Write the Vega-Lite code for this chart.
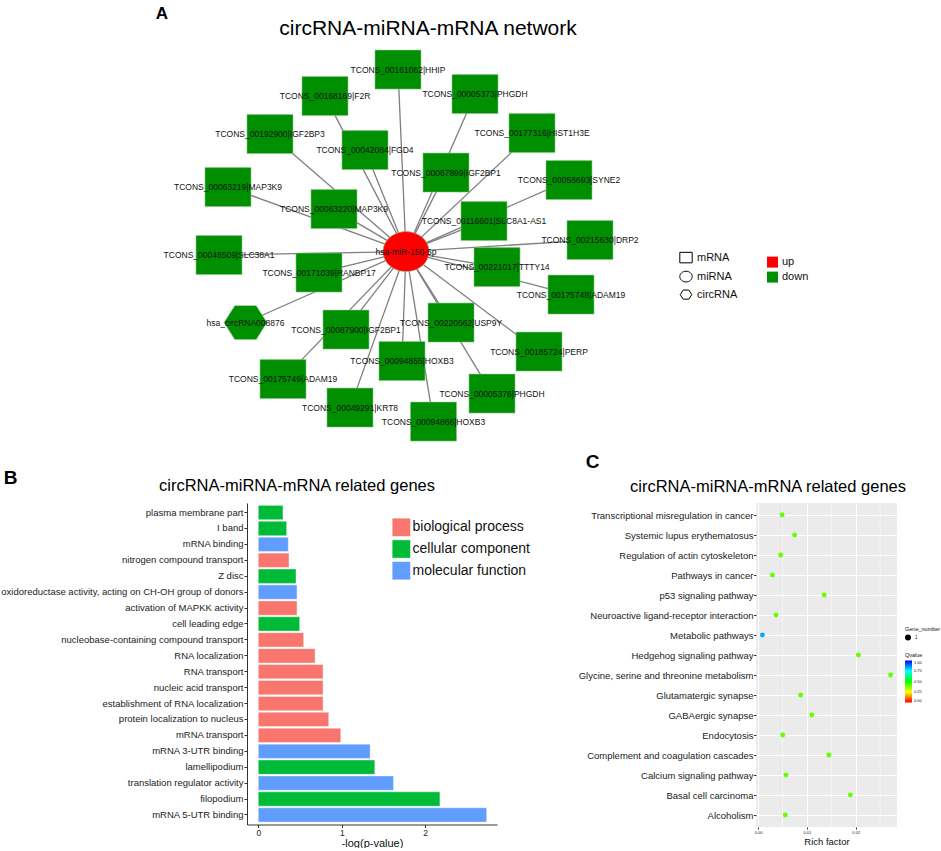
{
  "$schema": "https://vega.github.io/schema/vega-lite/v6.json",
  "padding": {"left": 0, "top": 4, "right": 0, "bottom": 0},
  "background": "white",
  "config": {
    "font": "Liberation Sans",
    "view": {"stroke": null},
    "title": {"fontWeight": "normal", "color": "black"},
    "axis": {"labelColor": "#222222", "titleColor": "#111111", "titleFontWeight": "normal", "domainColor": "#333333", "tickColor": "#333333"},
    "legend": {"labelColor": "#111111", "titleColor": "#111111", "titleFontWeight": "normal"}
  },
  "title": {"text": "A", "anchor": "start", "frame": "bounds", "dx": 155, "fontSize": 17, "fontWeight": "bold", "offset": -4.6},
  "spacing": 2,
  "resolve": {"scale": {"color": "independent", "shape": "independent", "size": "independent"}, "legend": {"color": "independent", "shape": "independent"}},
  "vconcat": [
    {
      "width": 690,
      "height": 405,
      "title": {"text": "circRNA-miRNA-mRNA network", "fontSize": 21, "anchor": "middle", "frame": "group", "dx": -164, "offset": 6},
      "data": {
        "values": [
          {"id": "hsa-miR-150-5p", "type": "miRNA", "reg": "up", "x": 406, "y": 250},
          {"id": "TCONS_00161062|HHIP", "type": "mRNA", "reg": "down", "x": 398, "y": 68},
          {"id": "TCONS_00168169|F2R", "type": "mRNA", "reg": "down", "x": 325, "y": 94.5},
          {"id": "TCONS_00005373|PHGDH", "type": "mRNA", "reg": "down", "x": 475, "y": 92.5},
          {"id": "TCONS_00192900|IGF2BP3", "type": "mRNA", "reg": "down", "x": 270, "y": 132.5},
          {"id": "TCONS_00042084|FGD4", "type": "mRNA", "reg": "down", "x": 365, "y": 148.5},
          {"id": "TCONS_00177316|HIST1H3E", "type": "mRNA", "reg": "down", "x": 532, "y": 131.5},
          {"id": "TCONS_00087899|IGF2BP1", "type": "mRNA", "reg": "down", "x": 446, "y": 171},
          {"id": "TCONS_00063219|MAP3K9", "type": "mRNA", "reg": "down", "x": 228, "y": 185.5},
          {"id": "TCONS_00058693|SYNE2", "type": "mRNA", "reg": "down", "x": 569, "y": 178.5},
          {"id": "TCONS_00063220|MAP3K9", "type": "mRNA", "reg": "down", "x": 334, "y": 207.5},
          {"id": "TCONS_00116601|SLC8A1-AS1", "type": "mRNA", "reg": "down", "x": 484, "y": 219.5},
          {"id": "TCONS_00215630|DRP2", "type": "mRNA", "reg": "down", "x": 590, "y": 238.5},
          {"id": "TCONS_00048509|SLC38A1", "type": "mRNA", "reg": "down", "x": 219, "y": 253.5},
          {"id": "TCONS_00171039|RANBP17", "type": "mRNA", "reg": "down", "x": 319, "y": 271},
          {"id": "TCONS_00221017|TTTY14", "type": "mRNA", "reg": "down", "x": 497, "y": 265.5},
          {"id": "TCONS_00175748|ADAM19", "type": "mRNA", "reg": "down", "x": 571, "y": 293},
          {"id": "hsa_circRNA008876", "type": "circRNA", "reg": "down", "x": 245.5, "y": 321},
          {"id": "TCONS_00087900|IGF2BP1", "type": "mRNA", "reg": "down", "x": 346, "y": 328},
          {"id": "TCONS_00220562|USP9Y", "type": "mRNA", "reg": "down", "x": 451, "y": 321},
          {"id": "TCONS_00185724|PERP", "type": "mRNA", "reg": "down", "x": 539, "y": 350},
          {"id": "TCONS_00094855|HOXB3", "type": "mRNA", "reg": "down", "x": 402, "y": 359.5},
          {"id": "TCONS_00175749|ADAM19", "type": "mRNA", "reg": "down", "x": 283, "y": 377.5},
          {"id": "TCONS_00005376|PHGDH", "type": "mRNA", "reg": "down", "x": 492, "y": 392},
          {"id": "TCONS_00049291|KRT8", "type": "mRNA", "reg": "down", "x": 350, "y": 406},
          {"id": "TCONS_00094866|HOXB3", "type": "mRNA", "reg": "down", "x": 433.5, "y": 420}
        ]
      },
      "encoding": {
        "x": {"field": "x", "type": "quantitative", "scale": {"domain": [247, 937], "nice": false, "zero": false}, "axis": null},
        "y": {"field": "y", "type": "quantitative", "scale": {"domain": [43.4, 448.4], "nice": false, "zero": false, "reverse": true}, "axis": null}
      },
      "layer": [
        {
          "transform": [{"filter": "datum.type != 'miRNA'"}],
          "mark": {"type": "rule", "color": "#7f7f7f", "strokeWidth": 1.3},
          "encoding": {"x2": {"datum": 406}, "y2": {"datum": 250}}
        },
        {
          "mark": {"type": "point", "filled": true, "opacity": 1, "size": 1521, "stroke": "#8cc48c", "strokeWidth": 0.6},
          "encoding": {
            "shape": {
              "field": "type", "type": "nominal",
              "scale": {"domain": ["mRNA", "miRNA", "circRNA"], "range": ["M-1.18,-1L1.18,-1L1.18,1L-1.18,1Z", "M-1.18,0A1.18,1.026,0,1,1,1.18,0A1.18,1.026,0,1,1,-1.18,0Z", "M-1.1,0L-0.55,-0.87L0.55,-0.87L1.1,0L0.55,0.87L-0.55,0.87Z"]},
              "legend": {"title": null, "orient": "none", "legendX": 433, "legendY": 206.6, "labelFontSize": 11, "symbolSize": 110, "rowPadding": 3, "labelOffset": 5,
                "symbolFillColor": "white", "symbolStrokeColor": "black", "symbolStrokeWidth": 1,
                "encode": {"symbols": {"enter": {"fill": {"value": "white"}, "stroke": {"value": "black"}}, "update": {"fill": {"value": "white"}, "stroke": {"value": "black"}, "strokeWidth": {"value": 1}, "opacity": {"value": 1}}}}}
            },
            "color": {
              "field": "reg", "type": "nominal",
              "scale": {"domain": ["up", "down"], "range": ["#ff0000", "#008f00"]},
              "legend": {"title": null, "orient": "none", "legendX": 520, "legendY": 211.6, "labelFontSize": 11, "symbolType": "square", "symbolSize": 121, "symbolStrokeWidth": 0, "rowPadding": 3, "labelOffset": 4}
            }
          }
        },
        {
          "mark": {"type": "text", "fontSize": 8.5, "color": "#111111", "align": "center", "baseline": "middle"},
          "encoding": {"text": {"field": "id", "type": "nominal"}}
        }
      ]
    },
    {
      "spacing": 47,
      "resolve": {"scale": {"color": "independent", "shape": "independent", "size": "independent"}, "legend": {"color": "independent", "shape": "independent"}},
      "hconcat": [
        {
          "title": {"text": ["", "B"], "lineHeight": 17, "anchor": "start", "frame": "bounds", "dx": 3, "fontSize": 19, "fontWeight": "bold", "offset": -9.8},
          "vconcat": [
            {
              "width": 250,
              "height": 321.5,
              "title": {"text": "circRNA-miRNA-mRNA related genes", "fontSize": 16.5, "anchor": "middle", "frame": "group", "dx": -75, "offset": 8.2},
              "data": {
                "values": [
                  {"term": "plasma membrane part", "category": "cellular component", "value": 0.296},
                  {"term": "I band", "category": "cellular component", "value": 0.34},
                  {"term": "mRNA binding", "category": "molecular function", "value": 0.36},
                  {"term": "nitrogen compound transport", "category": "biological process", "value": 0.368},
                  {"term": "Z disc", "category": "cellular component", "value": 0.452},
                  {"term": "oxidoreductase activity, acting on CH-OH group of donors", "category": "molecular function", "value": 0.464},
                  {"term": "activation of MAPKK activity", "category": "biological process", "value": 0.464},
                  {"term": "cell leading edge", "category": "cellular component", "value": 0.496},
                  {"term": "nucleobase-containing compound transport", "category": "biological process", "value": 0.544},
                  {"term": "RNA localization", "category": "biological process", "value": 0.68},
                  {"term": "RNA transport", "category": "biological process", "value": 0.776},
                  {"term": "nucleic acid transport", "category": "biological process", "value": 0.776},
                  {"term": "establishment of RNA localization", "category": "biological process", "value": 0.776},
                  {"term": "protein localization to nucleus", "category": "biological process", "value": 0.844},
                  {"term": "mRNA transport", "category": "biological process", "value": 0.988},
                  {"term": "mRNA 3-UTR binding", "category": "molecular function", "value": 1.34},
                  {"term": "lamellipodium", "category": "cellular component", "value": 1.396},
                  {"term": "translation regulator activity", "category": "molecular function", "value": 1.62},
                  {"term": "filopodium", "category": "cellular component", "value": 2.176},
                  {"term": "mRNA 5-UTR binding", "category": "molecular function", "value": 2.736}
                ]
              },
              "mark": {"type": "bar", "stroke": "white", "strokeWidth": 0.4},
              "encoding": {
                "y": {"field": "term", "type": "nominal", "sort": null, "scale": {"paddingInner": 0.1, "paddingOuter": 0.15},
                  "axis": {"title": null, "labelFontSize": 9.5, "labelLimit": 0, "tickSize": 3, "labelPadding": 1, "labelColor": "#222222"}},
                "x": {"field": "value", "type": "quantitative", "scale": {"domain": [-0.135, 2.86], "nice": false},
                  "axis": {"values": [0, 1, 2], "title": "-log(p-value)", "titleFontSize": 11, "titlePadding": 0, "labelFontSize": 8.5, "tickSize": 3, "labelPadding": 1, "grid": false}},
                "color": {"field": "category", "type": "nominal",
                  "scale": {"domain": ["biological process", "cellular component", "molecular function"], "range": ["#F8766D", "#00BA38", "#619CFF"]},
                  "legend": {"title": null, "orient": "none", "legendX": 144.8, "legendY": 14.8, "symbolType": "square", "symbolSize": 335, "symbolStrokeColor": "white", "symbolStrokeWidth": 0.5, "labelFontSize": 14, "labelOffset": 1.7, "rowPadding": 0.7}}
              }
            }
          ]
        },
        {
          "title": {"text": "C", "anchor": "start", "frame": "bounds", "dx": 7.5, "fontSize": 19, "fontWeight": "bold", "offset": 6.2},
          "vconcat": [
            {
              "width": 141,
              "height": 324,
              "title": {"text": "circRNA-miRNA-mRNA related genes", "fontSize": 16.5, "anchor": "middle", "frame": "group", "dx": -58.5, "offset": 7.7},
              "view": {"fill": "#EBEBEB", "stroke": null},
              "layer": [
                {
                  "data": {"values": [{"m": 0.005}, {"m": 0.015}, {"m": 0.025}]},
                  "mark": {"type": "rule", "color": "white", "strokeWidth": 0.5},
                  "encoding": {"x": {"field": "m", "type": "quantitative", "scale": {"domain": [-0.00043, 0.02845], "nice": false, "zero": false},
                    "axis": {"values": [0, 0.01, 0.02], "format": ".2f", "grid": true, "gridColor": "white", "gridWidth": 1, "domain": false, "tickSize": 2, "labelFontSize": 4, "labelPadding": 1, "title": "Rich factor", "titleFontSize": 9.5, "titlePadding": 2}}}
                },
                {
                  "data": {
                    "values": [
                      {"term": "Transcriptional misregulation in cancer", "rf": 0.0049, "q": 0.4, "gn": "1"},
                      {"term": "Systemic lupus erythematosus", "rf": 0.00747, "q": 0.4, "gn": "1"},
                      {"term": "Regulation of actin cytoskeleton", "rf": 0.00462, "q": 0.4, "gn": "1"},
                      {"term": "Pathways in cancer", "rf": 0.00292, "q": 0.4, "gn": "1"},
                      {"term": "p53 signaling pathway", "rf": 0.01353, "q": 0.4, "gn": "1"},
                      {"term": "Neuroactive ligand-receptor interaction", "rf": 0.00367, "q": 0.4, "gn": "1"},
                      {"term": "Metabolic pathways", "rf": 0.00088, "q": 0.83, "gn": "1"},
                      {"term": "Hedgehog signaling pathway", "rf": 0.02054, "q": 0.4, "gn": "1"},
                      {"term": "Glycine, serine and threonine metabolism", "rf": 0.02714, "q": 0.4, "gn": "1"},
                      {"term": "Glutamatergic synapse", "rf": 0.0087, "q": 0.4, "gn": "1"},
                      {"term": "GABAergic synapse", "rf": 0.011, "q": 0.4, "gn": "1"},
                      {"term": "Endocytosis", "rf": 0.00503, "q": 0.4, "gn": "1"},
                      {"term": "Complement and coagulation cascades", "rf": 0.01449, "q": 0.4, "gn": "1"},
                      {"term": "Calcium signaling pathway", "rf": 0.00571, "q": 0.4, "gn": "1"},
                      {"term": "Basal cell carcinoma", "rf": 0.0189, "q": 0.4, "gn": "1"},
                      {"term": "Alcoholism", "rf": 0.00557, "q": 0.4, "gn": "1"}
                    ]
                  },
                  "mark": {"type": "point", "filled": true, "opacity": 1, "size": 24},
                  "encoding": {
                    "y": {"field": "term", "type": "nominal", "sort": null, "scale": {"type": "point", "padding": 0.6},
                      "axis": {"title": null, "grid": true, "gridColor": "white", "gridWidth": 1, "domain": false, "tickSize": 2.5, "labelPadding": 0.5, "labelFontSize": 9.5, "labelLimit": 0, "labelColor": "#1a1a1a"}},
                    "x": {"field": "rf", "type": "quantitative", "scale": {"domain": [-0.00043, 0.02845], "nice": false, "zero": false},
                      "axis": {"values": [0, 0.01, 0.02], "format": ".2f", "grid": true, "gridColor": "white", "gridWidth": 1, "domain": false, "tickSize": 2, "labelFontSize": 4, "labelPadding": 1, "title": "Rich factor", "titleFontSize": 9.5, "titlePadding": 2}},
                    "color": {"field": "q", "type": "quantitative",
                      "scale": {"domain": [0, 0.25, 0.5, 0.75, 1], "range": ["#ff0000", "#ffff00", "#00ff00", "#00ffff", "#0000ff"], "interpolate": "rgb"},
                      "legend": {"title": "Qvalue", "orient": "none", "legendX": 149, "legendY": 150, "titleFontSize": 5.5, "labelFontSize": 4, "gradientLength": 42, "gradientThickness": 7, "values": [0, 0.25, 0.5, 0.75, 1], "format": ".2f", "direction": "vertical", "titlePadding": 2, "labelOffset": 2}},
                    "shape": {"field": "gn", "type": "nominal", "scale": {"domain": ["1"], "range": ["circle"]},
                      "legend": {"title": "Gene_number", "orient": "none", "legendX": 149, "legendY": 124, "titleFontSize": 5.5, "labelFontSize": 4.5, "symbolSize": 20, "titlePadding": 2,
                        "symbolFillColor": "black", "symbolStrokeColor": "black",
                        "encode": {"symbols": {"update": {"fill": {"value": "black"}, "stroke": {"value": "black"}, "opacity": {"value": 1}}}}}}
                  }
                }
              ]
            }
          ]
        }
      ]
    }
  ]
}
